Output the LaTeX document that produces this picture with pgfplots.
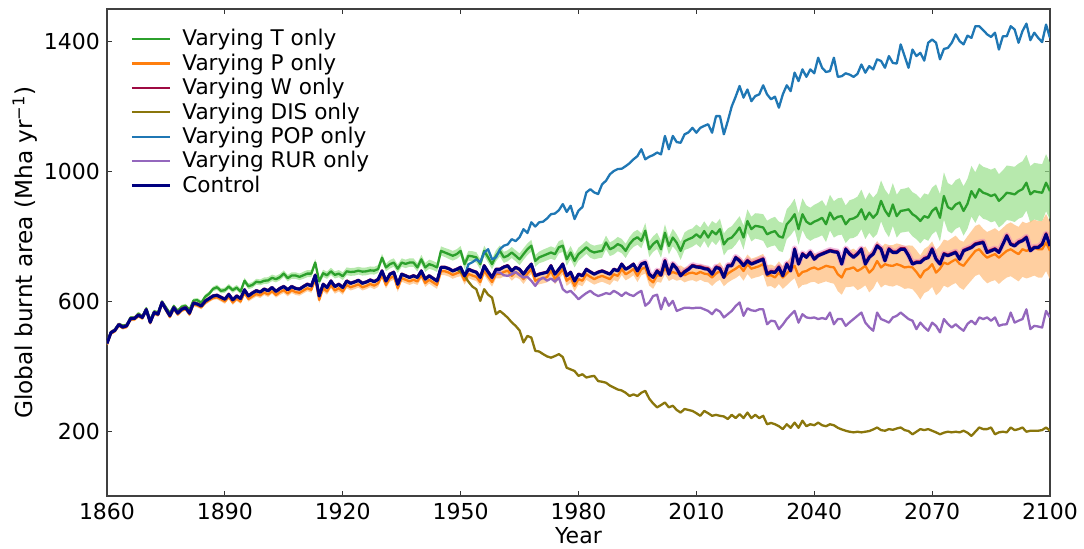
\documentclass[border=0pt]{standalone}
\usepackage{fontspec}
\setmainfont{DejaVu Sans}
\usepackage{pgfplots}
\pgfplotsset{compat=1.18}
\usepackage{pgfplotstable}
\usepgfplotslibrary{fillbetween}

\definecolor{cT}{HTML}{2CA02C}
\definecolor{cTband}{HTML}{98DF8A}
\definecolor{cP}{HTML}{FF7F0E}
\definecolor{cPband}{HTML}{FFBB78}
\definecolor{cW}{HTML}{9E0A42}
\definecolor{cWband}{HTML}{E377C2}
\definecolor{cDIS}{HTML}{8A760C}
\definecolor{cPOP}{HTML}{1F77B4}
\definecolor{cRUR}{HTML}{9467BD}
\definecolor{cCtl}{HTML}{000080}

% Global burnt area (Mha/yr) per experiment; Td and Pd are the half-widths
% of the spread for the T-only and P-only ensembles.
\pgfplotstableread{
year C T Td P Pd W DIS POP RUR
1860 470 470 3 467 3 471 470 470 470
1861 503 505 3 500 4 505 503 503 503
1862 510 513 4 507 4 512 510 510 510
1863 528 530 4 525 4 530 528 528 528
1864 520 525 4 517 4 522 520 520 520
1865 524 527 4 521 5 526 524 524 524
1866 546 550 4 543 5 548 546 546 546
1867 547 549 5 544 5 549 547 547 547
1868 557 562 5 554 5 559 557 557 557
1869 550 553 5 547 5 552 550 550 550
1870 574 578 5 571 5 576 574 574 574
1871 535 541 5 532 5 537 535 535 535
1872 565 569 5 562 5 567 565 565 565
1873 560 565 5 557 5 562 560 560 560
1874 596 599 5 593 5 598 596 596 596
1875 575 581 6 572 5 577 575 575 575
1876 555 563 6 551 5 557 555 555 555
1877 580 585 6 576 5 582 580 580 580
1878 563 570 6 559 5 565 563 563 563
1879 575 583 6 571 5 577 575 575 575
1880 580 586 6 576 5 582 580 580 580
1881 563 573 6 559 6 565 563 563 563
1882 594 602 6 590 6 596 594 594 594
1883 591 603 7 587 6 593 591 591 591
1884 585 595 7 581 6 587 585 585 585
1885 600 614 7 595 6 602 600 600 600
1886 608 623 7 603 6 610 608 608 608
1887 616 638 7 610 6 618 616 616 616
1888 618 643 8 612 6 620 618 618 618
1889 612 632 8 606 7 614 612 612 612
1890 606 634 8 599 7 608 606 606 606
1891 621 645 8 614 7 623 621 621 621
1892 604 634 8 596 7 606 604 604 604
1893 616 642 8 608 7 618 616 616 616
1894 608 630 9 599 7 610 608 608 608
1895 635 663 9 626 7 637 635 635 635
1896 616 646 9 607 8 618 616 616 616
1897 625 650 9 615 8 627 625 625 625
1898 632 660 9 622 8 634 632 632 632
1899 628 658 9 618 8 630 628 628 628
1900 637 663 10 627 8 639 637 637 637
1901 632 664 10 621 8 634 632 632 632
1902 642 672 10 631 8 644 642 642 642
1903 630 668 10 619 8 632 630 630 630
1904 639 674 10 628 9 641 639 639 639
1905 645 685 10 634 9 647 645 645 645
1906 635 671 10 624 9 637 635 635 635
1907 645 679 10 634 9 647 645 645 645
1908 639 679 10 628 9 641 639 639 639
1909 637 675 10 626 9 639 637 637 637
1910 645 680 11 633 9 647 645 645 645
1911 652 685 11 640 9 654 652 652 652
1912 647 685 11 635 9 649 647 647 647
1913 680 719 11 668 9 682 680 680 680
1914 616 661 11 604 10 618 616 616 616
1915 652 686 11 640 10 654 652 652 652
1916 642 680 11 630 10 644 642 642 642
1917 662 692 11 650 10 664 662 662 662
1918 645 681 11 633 10 647 645 645 645
1919 652 685 11 640 10 654 652 652 652
1920 642 677 12 630 10 644 642 642 642
1921 662 692 12 650 10 664 662 662 662
1922 655 690 12 643 10 657 655 655 655
1923 659 691 12 647 10 661 659 659 659
1924 664 694 12 652 10 666 664 664 664
1925 655 691 12 643 10 657 655 655 655
1926 659 692 12 647 10 661 659 659 659
1927 665 695 12 653 10 667 665 665 665
1928 660 694 12 648 11 662 660 660 660
1929 667 699 12 655 11 669 667 667 667
1930 693 734 12 681 11 695 693 693 693
1931 662 704 12 650 11 664 662 662 662
1932 683 714 13 671 11 685 683 683 683
1933 689 719 13 677 11 691 689 689 689
1934 652 700 13 640 11 654 652 652 652
1935 683 719 13 671 11 685 683 683 683
1936 678 715 13 666 11 680 678 678 678
1937 673 719 13 661 11 675 673 673 673
1938 678 719 13 666 11 680 678 678 678
1939 673 704 13 661 11 675 673 673 673
1940 693 729 14 681 12 695 693 693 693
1941 668 704 14 656 12 670 668 668 668
1942 678 714 14 666 12 680 678 678 678
1943 670 710 14 658 12 672 670 670 670
1944 662 704 14 650 12 664 662 662 662
1945 704 755 14 692 12 706 704 704 704
1946 704 750 14 692 12 706 704 704 704
1947 700 745 15 688 12 702 700 700 700
1948 693 740 15 681 12 695 693 693 693
1949 698 745 15 686 12 700 698 698 698
1950 704 755 15 690 13 706 690 704 704
1951 678 714 15 664 13 680 678 678 678
1952 698 740 15 684 13 700 660 714 698
1953 693 738 16 679 13 695 645 720 693
1954 689 735 16 675 13 691 637 729 689
1955 673 714 16 659 14 675 601 720 673
1956 709 755 16 695 14 711 637 750 705
1957 690 735 16 676 14 692 620 760 688
1958 673 714 16 659 14 675 611 729 670
1959 698 740 17 684 14 700 560 735 690
1960 698 755 17 684 14 700 570 760 688
1961 705 735 17 690 14 707 560 771 680
1962 709 740 17 694 15 711 549 775 678
1963 693 750 17 678 15 695 535 791 683
1964 704 740 17 689 15 706 524 785 690
1965 698 729 18 683 15 700 510 797 680
1966 683 745 18 668 15 685 473 822 673
1967 700 760 18 685 15 702 493 810 675
1968 714 771 18 699 15 716 488 843 663
1969 678 724 18 663 15 680 447 830 647
1970 683 735 18 668 16 685 445 843 665
1971 686 740 19 671 16 688 437 845 673
1972 689 745 19 674 16 691 430 855 663
1973 709 750 19 694 16 711 426 868 670
1974 683 745 19 668 16 685 431 870 660
1975 698 766 19 683 16 700 437 880 673
1976 714 771 19 699 16 716 428 899 637
1977 678 729 20 663 16 680 395 875 627
1978 689 750 20 674 17 691 390 894 632
1979 662 724 20 647 17 664 385 853 620
1980 683 745 20 668 17 685 370 879 606
1981 678 755 20 663 17 680 375 890 616
1982 698 766 20 683 17 700 365 935 625
1983 690 755 21 675 17 692 368 945 632
1984 683 750 21 668 17 685 370 935 622
1985 689 753 21 674 18 691 354 930 616
1986 693 755 21 678 18 695 352 960 620
1987 688 781 21 673 18 690 349 971 625
1988 683 760 21 668 18 685 340 991 622
1989 698 766 22 683 18 700 334 1001 632
1990 693 776 22 678 18 695 328 1007 625
1991 714 770 22 699 18 716 325 1008 616
1992 698 755 22 683 19 700 318 1016 627
1993 705 776 22 690 19 707 308 1025 620
1994 714 790 23 699 19 716 313 1037 616
1995 693 797 23 678 19 695 308 1047 625
1996 714 786 23 699 19 716 318 1068 632
1997 719 817 24 704 19 721 324 1037 586
1998 683 760 24 668 20 685 300 1045 596
1999 673 776 24 658 20 675 285 1050 616
2000 693 786 25 680 20 695 273 1058 620
2001 680 760 26 678 21 683 280 1052 575
2002 724 811 26 704 21 727 288 1109 611
2003 683 770 26 683 21 686 273 1068 586
2004 714 796 27 690 21 716 278 1109 601
2005 700 780 26 685 22 703 265 1090 570
2006 678 755 28 688 22 681 257 1088 575
2007 690 785 27 680 22 693 268 1114 580
2008 698 791 29 686 23 701 265 1120 580
2009 709 796 28 688 23 712 262 1134 578
2010 705 806 30 684 24 708 255 1119 580
2011 704 796 31 690 24 707 247 1134 580
2012 700 816 30 685 25 703 262 1140 575
2013 698 796 32 683 25 701 255 1145 570
2014 683 816 31 673 26 686 247 1119 560
2015 704 806 33 685 26 707 250 1170 575
2016 700 822 32 693 27 703 247 1170 568
2017 673 775 34 673 27 676 245 1114 550
2018 709 791 33 685 28 712 237 1155 560
2019 709 796 35 693 28 712 250 1200 570
2020 734 810 36 700 29 737 240 1230 585
2021 724 827 35 709 29 727 252 1263 596
2022 709 796 37 693 30 712 240 1227 555
2023 724 847 36 714 30 727 257 1252 578
2024 714 822 38 700 31 717 240 1216 572
2025 719 832 39 704 31 722 250 1232 570
2026 724 830 40 708 32 727 240 1237 575
2027 729 827 41 714 32 732 247 1265 575
2028 683 806 42 678 33 686 221 1237 529
2029 690 812 43 680 33 693 225 1222 540
2030 688 816 44 673 34 691 221 1230 538
2031 704 800 45 688 35 707 215 1196 514
2032 678 796 45 673 35 681 206 1237 528
2033 714 837 46 685 36 717 221 1265 545
2034 693 850 47 698 37 696 210 1247 558
2035 760 868 48 709 38 763 226 1304 570
2036 714 822 48 678 39 717 210 1278 534
2037 745 868 49 690 40 748 232 1314 560
2038 735 845 50 693 41 738 215 1291 550
2039 750 837 51 700 42 753 221 1314 548
2040 729 845 52 704 44 732 218 1302 550
2041 740 850 53 698 45 743 226 1350 545
2042 745 857 54 703 46 748 218 1319 548
2043 750 837 55 709 48 753 215 1306 545
2044 755 873 55 706 49 758 221 1309 565
2045 752 852 56 704 50 755 218 1350 529
2046 750 860 57 683 52 753 210 1291 545
2047 714 862 57 673 53 717 205 1293 545
2048 760 837 58 698 55 763 201 1302 524
2049 745 852 59 700 56 748 198 1298 535
2050 735 855 60 704 58 738 196 1291 545
2051 745 862 60 693 59 748 198 1300 555
2052 760 883 61 700 60 763 196 1329 565
2053 714 852 61 709 60 717 198 1304 534
2054 735 873 62 688 61 738 200 1324 520
2055 745 857 62 700 61 748 205 1314 509
2056 770 870 63 724 62 773 211 1345 565
2057 760 909 63 704 62 763 203 1340 545
2058 724 880 64 714 63 727 201 1319 540
2059 760 862 65 710 63 763 206 1355 534
2060 750 898 66 709 64 753 204 1334 550
2061 750 862 66 714 64 753 208 1332 555
2062 760 878 67 710 65 763 211 1391 565
2063 760 880 67 704 66 763 203 1355 555
2064 740 883 68 706 66 743 200 1319 545
2065 714 868 68 704 67 717 190 1375 540
2066 719 860 69 690 67 722 198 1355 514
2067 719 847 69 673 68 722 206 1365 534
2068 730 862 70 693 68 733 203 1341 520
2069 734 857 71 700 69 737 206 1396 509
2070 760 878 72 714 70 763 201 1406 534
2071 729 888 72 688 70 732 196 1396 524
2072 714 857 73 700 71 717 190 1345 504
2073 745 924 73 719 71 748 195 1377 545
2074 740 890 74 714 72 743 198 1380 530
2075 745 883 74 722 72 748 196 1396 519
2076 750 898 75 729 73 753 198 1422 529
2077 729 904 75 715 73 732 196 1401 518
2078 755 878 76 709 74 758 201 1391 509
2079 760 900 77 725 75 763 195 1418 530
2080 765 939 78 740 76 768 185 1411 540
2081 775 919 78 755 77 778 198 1447 529
2082 778 945 79 760 77 781 211 1447 550
2083 781 934 80 745 78 784 206 1435 545
2084 750 930 80 734 79 753 206 1422 550
2085 755 924 81 740 79 758 211 1414 540
2086 760 929 82 745 80 763 190 1427 550
2087 750 909 82 734 81 753 196 1375 524
2088 775 920 83 745 81 778 198 1416 528
2089 801 934 84 755 82 804 196 1416 529
2090 775 932 84 760 83 778 211 1447 565
2091 770 929 85 752 83 773 203 1437 534
2092 781 939 85 745 84 784 206 1396 540
2093 786 945 86 760 85 789 211 1432 545
2094 796 965 86 755 85 799 198 1455 575
2095 755 929 87 760 86 758 201 1404 514
2096 765 939 87 765 86 768 201 1427 524
2097 765 936 88 760 87 768 201 1411 522
2098 775 934 88 760 87 778 203 1398 519
2099 806 965 88 781 88 809 211 1452 570
2100 770 939 88 755 88 773 201 1411 550
}\burnt

\begin{document}
\begin{tikzpicture}
\begin{axis}[
  at={(0,0)}, anchor=south west,
  scale only axis, width=471.5pt, height=243.5pt,
  xmin=1860, xmax=2100, ymin=0, ymax=1500,
  xtick={1860,1890,...,2100}, ytick={200,600,1000,1400},
  tick align=inside, major tick length=2.5pt,
  tick style={black!80, line width=0.5pt},
  axis line style={black!75, line width=0.7pt},
  /pgf/number format/assume math mode=true,
  /pgf/number format/1000 sep={},
  ticklabel style={font=\fontsize{11}{13}\selectfont},
  xticklabel style={anchor=base, yshift=-11.5pt},
  label style={font=\fontsize{11}{13}\selectfont},
  xlabel={Year},
  xlabel style={at={(axis description cs:0.5,0)}, anchor=base, yshift=-23.5pt, inner sep=0pt},
  ylabel={Global burnt area (Mha yr\textsuperscript{−1})},
  ylabel style={at={(axis description cs:-0.0785,0.5)}, anchor=base, inner sep=0pt,
    font=\fontsize{11.6}{13}\selectfont},
  legend cell align=left,
  legend style={draw=none, fill=none,
    at={(axis description cs:0,1)}, anchor=north west,
    xshift=8.5pt, yshift=-6.5pt,
    font=\fontsize{10.8}{13}\selectfont,
    row sep=-0.5pt, column sep=4pt, nodes={inner sep=1.5pt}},
  legend image code/.code={\draw[#1] (0pt,0pt) -- (19pt,0pt);},
  every axis plot/.append style={line join=round},
]
% ensemble spread of the T-only runs
\addplot[name path=thi, draw=none, forget plot] table[x=year, y expr=\thisrow{T}+\thisrow{Td}] {\burnt};
\addplot[name path=tlo, draw=none, forget plot] table[x=year, y expr=\thisrow{T}-\thisrow{Td}] {\burnt};
\addplot[fill=cTband, fill opacity=0.7, draw=none, forget plot] fill between[of=thi and tlo];
% ensemble spread of the P-only runs
\addplot[name path=phi, draw=none, forget plot] table[x=year, y expr=\thisrow{P}+\thisrow{Pd}] {\burnt};
\addplot[name path=plo, draw=none, forget plot] table[x=year, y expr=\thisrow{P}-\thisrow{Pd}] {\burnt};
\addplot[fill=cPband, fill opacity=0.7, draw=none, forget plot] fill between[of=phi and plo];
% narrow spread of the W-only runs
\addplot[cWband, opacity=0.45, line width=2.8pt, forget plot, restrict x to domain=1995:2100] table[x=year, y=W] {\burnt};

\addplot[cT, line width=1.15pt] table[x=year, y=T] {\burnt};
\addlegendentry{Varying T only}
\addplot[cP, line width=1.15pt] table[x=year, y=P] {\burnt};
\addlegendentry{Varying P only}
\addplot[cW, line width=1.15pt] table[x=year, y=W] {\burnt};
\addlegendentry{Varying W only}
\addplot[cDIS, line width=1.15pt] table[x=year, y=DIS] {\burnt};
\addlegendentry{Varying DIS only}
\addplot[cPOP, line width=1.15pt] table[x=year, y=POP] {\burnt};
\addlegendentry{Varying POP only}
\addplot[cRUR, line width=1.15pt] table[x=year, y=RUR] {\burnt};
\addlegendentry{Varying RUR only}
\addplot[cCtl, line width=1.5pt] table[x=year, y=C] {\burnt};
\addlegendentry{Control}
\end{axis}
\pgfresetboundingbox
\path (-53.5pt,-26pt) rectangle (488.5pt,248pt);
\end{tikzpicture}
\end{document}
